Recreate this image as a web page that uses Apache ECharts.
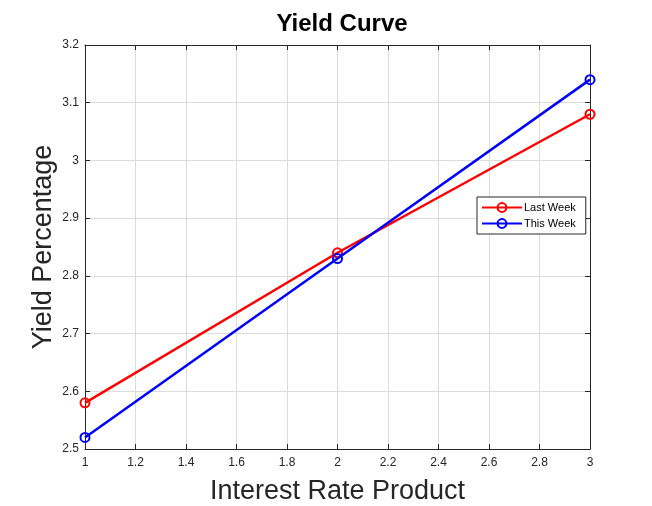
<!DOCTYPE html>
<html>
<head>
<meta charset="utf-8">
<script src="https://cdn.jsdelivr.net/npm/echarts@6/dist/echarts.min.js"></script>
<style>
  html, body { margin: 0; padding: 0; background: #fff; }
  #chart { width: 652px; height: 506px; }
</style>
</head>
<body>
<div id="chart"></div>
<script>
const products = [1, 2, 3]
const lastWeek = [2.58, 2.84, 3.08]
const thisWeek = [2.52, 2.83, 3.14]

const chart = echarts.init(document.getElementById('chart'))
const tickColor = '#262626'
const font = 'Helvetica, Arial, "Liberation Sans", sans-serif'

const xBase = {
  type: 'value', min: 1, max: 3, interval: 0.2,
  axisLine: { show: true, onZero: false, lineStyle: { color: tickColor, width: 1 } },
  axisTick: { show: true, inside: true, length: 5, lineStyle: { color: tickColor } },
  splitLine: { show: true, lineStyle: { color: '#dcdcdc', width: 1 } },
}
const yBase = {
  type: 'value', min: 2.5, max: 3.2, interval: 0.1,
  axisLine: { show: true, onZero: false, lineStyle: { color: tickColor, width: 1 } },
  axisTick: { show: true, inside: true, length: 5, lineStyle: { color: tickColor } },
  splitLine: { show: true, lineStyle: { color: '#dcdcdc', width: 1 } },
}

const option = {
  animation: false,
  textStyle: { fontFamily: font },
  title: {
    text: 'Yield Curve',
    left: 337, top: 7, textAlign: 'center',
    textStyle: { fontSize: 24, fontWeight: 'bold', color: '#000', fontFamily: font },
  },
  grid: { left: 85, right: 62, top: 45, bottom: 57, containLabel: false, outerBoundsMode: 'none' },
  legend: {
    data: ['Last Week', 'This Week'],
    orient: 'vertical',
    left: 477, top: 197,
    padding: [5, 10, 5, 4],
    itemGap: 5,
    itemWidth: 40, itemHeight: 11,
    backgroundColor: '#fff',
    borderColor: '#262626', borderWidth: 1, borderRadius: 0,
    textStyle: { fontSize: 11, color: '#000', fontFamily: font, padding: [0, 0, 0, -3] },
  },
  xAxis: [
    Object.assign({}, xBase, {
      position: 'bottom',
      name: 'Interest Rate Product',
      nameLocation: 'middle', nameGap: 29, nameMoveOverlap: false,
      nameTextStyle: { fontSize: 27, color: '#262626', fontFamily: font },
      axisLabel: { fontSize: 12, color: tickColor, margin: 8, formatter: v => String(+v.toFixed(1)) },
    }),
    Object.assign({}, xBase, {
      position: 'top',
      axisLabel: { show: false },
      splitLine: { show: false },
    }),
  ],
  yAxis: [
    Object.assign({}, yBase, {
      position: 'left',
      name: 'Yield Percentage',
      nameLocation: 'middle', nameGap: 28, nameMoveOverlap: false,
      nameTextStyle: { fontSize: 27, color: '#262626', fontFamily: font },
      axisLabel: { fontSize: 12, color: tickColor, margin: 6, formatter: v => String(+v.toFixed(1)) },
    }),
    Object.assign({}, yBase, {
      position: 'right',
      axisLabel: { show: false },
      splitLine: { show: false },
    }),
  ],
  series: [
    {
      name: 'Last Week', type: 'line',
      data: products.map((x, i) => [x, lastWeek[i]]),
      symbol: 'circle', symbolSize: 9,
      lineStyle: { color: '#ff0000', width: 2.5 },
      itemStyle: { color: 'rgba(0,0,0,0)', borderColor: '#ff0000', borderWidth: 2 },
      z: 3,
    },
    {
      name: 'This Week', type: 'line',
      data: products.map((x, i) => [x, thisWeek[i]]),
      symbol: 'circle', symbolSize: 9,
      lineStyle: { color: '#0000ff', width: 2.5 },
      itemStyle: { color: 'rgba(0,0,0,0)', borderColor: '#0000ff', borderWidth: 2 },
      z: 4,
    },
  ],
}
chart.setOption(option)
</script>
</body>
</html>
